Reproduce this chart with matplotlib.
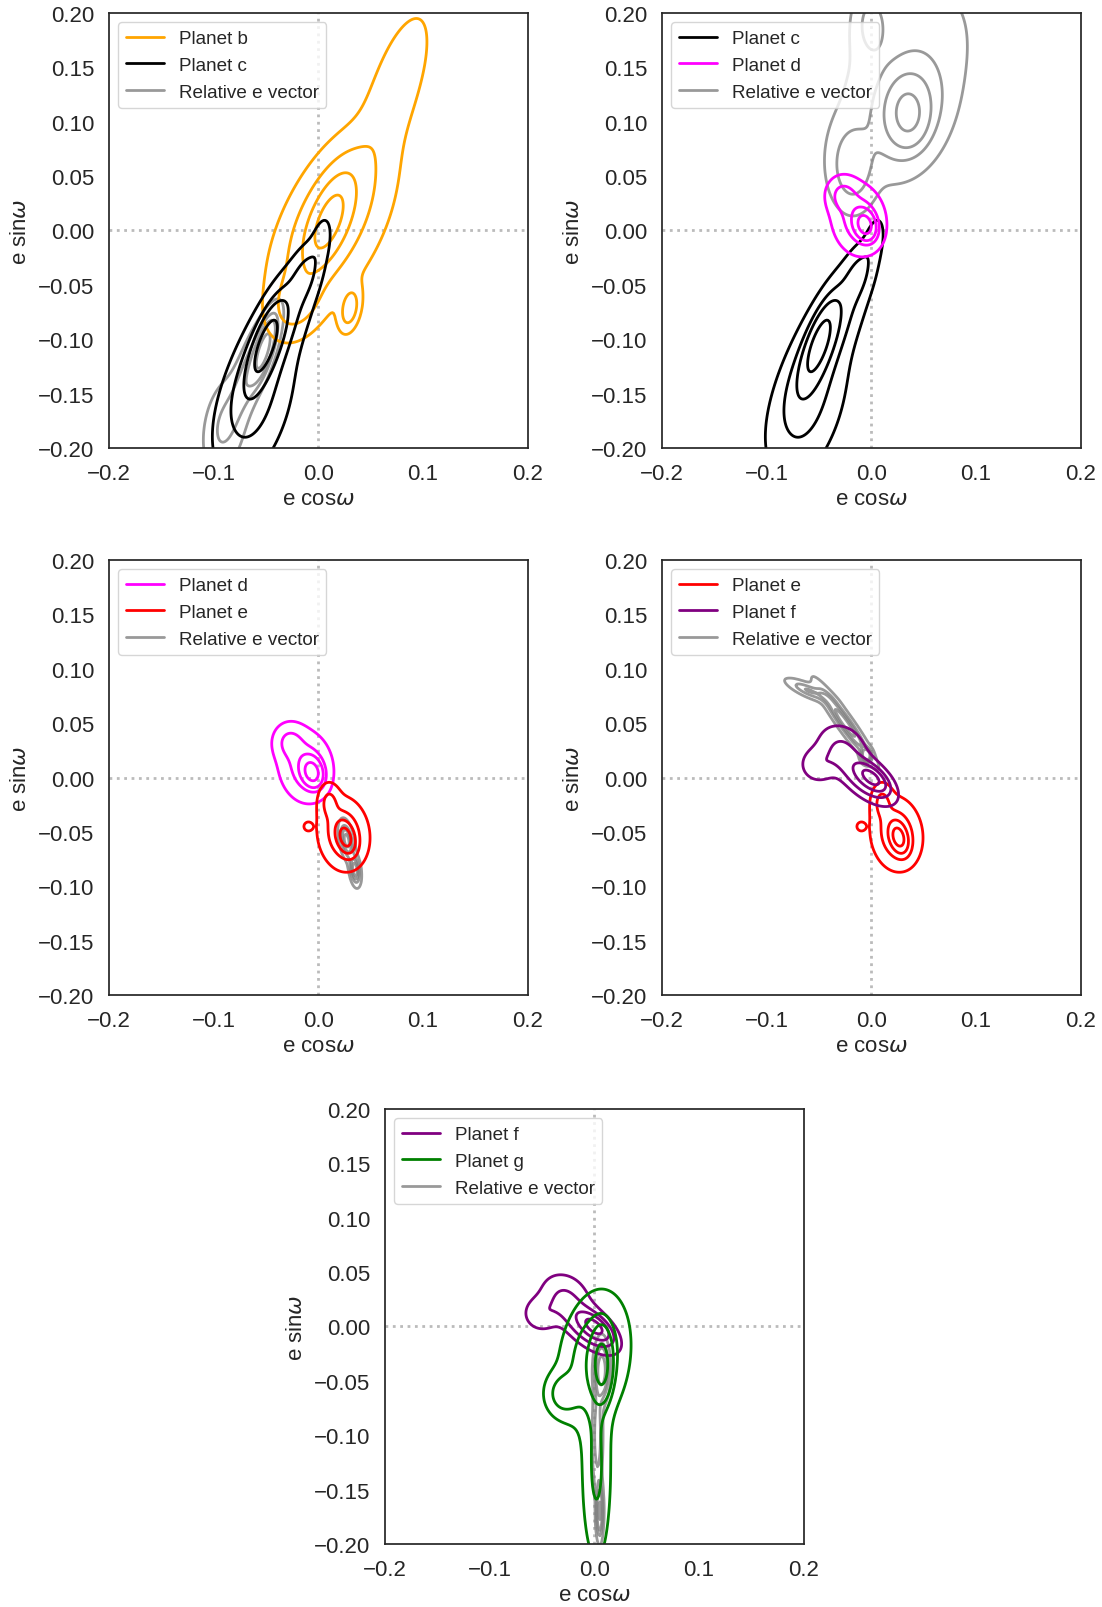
import numpy as np
import matplotlib
matplotlib.use("Agg")
import matplotlib.pyplot as plt
from matplotlib.lines import Line2D
import seaborn as sns

# posterior shapes:
# each row = (weight, x centre, y centre, x width, y width, correlation)
planet_b = [
    (0.30, 0.010, 0.008, 0.012, 0.022, 0.60),
    (0.30, 0.012, 0.012, 0.026, 0.040, 0.60),
    (0.22, 0.015, 0.000, 0.040, 0.055, 0.55),
    (0.09, 0.075, 0.135, 0.020, 0.042, 0.65),
    (0.06, -0.020, -0.065, 0.014, 0.018, 0.30),
    (0.02, 0.030, -0.072, 0.006, 0.012, 0.30),
]
planet_c = [
    (0.26, -0.050, -0.105, 0.009, 0.020, 0.70),
    (0.38, -0.045, -0.100, 0.024, 0.042, 0.80),
    (0.28, -0.060, -0.165, 0.022, 0.040, 0.50),
    (0.035, -0.012, -0.040, 0.009, 0.016, 0.50),
    (0.012, 0.003, -0.008, 0.006, 0.014, 0.40),
]
planet_d = [
    (0.35, -0.006, 0.005, 0.006, 0.008, -0.20),
    (0.50, -0.012, 0.010, 0.014, 0.018, -0.10),
    (0.12, -0.028, 0.033, 0.009, 0.010, 0.00),
]
planet_e = [
    (0.35, 0.026, -0.055, 0.005, 0.008, -0.30),
    (0.52, 0.024, -0.052, 0.013, 0.018, -0.10),
    (0.08, 0.010, -0.022, 0.006, 0.010, 0.00),
    (0.006, -0.010, -0.045, 0.003, 0.003, 0.00),
]
planet_f = [
    (0.30, 0.000, 0.000, 0.007, 0.006, -0.60),
    (0.40, -0.005, 0.000, 0.015, 0.013, -0.60),
    (0.17, -0.028, 0.028, 0.014, 0.013, -0.20),
    (0.09, -0.050, 0.012, 0.011, 0.010, 0.00),
]
planet_g = [
    (0.30, 0.007, -0.035, 0.005, 0.016, 0.00),
    (0.40, 0.000, -0.030, 0.018, 0.033, 0.20),
    (0.17, 0.002, -0.130, 0.008, 0.050, 0.00),
    (0.06, -0.030, -0.062, 0.010, 0.012, 0.00),
]
rel_bc = [
    (0.35, -0.052, -0.110, 0.006, 0.015, 0.70),
    (0.40, -0.062, -0.125, 0.014, 0.030, 0.80),
    (0.25, -0.090, -0.180, 0.012, 0.025, 0.30),
]
rel_cd = [
    (0.25, 0.035, 0.108, 0.009, 0.014, 0.00),
    (0.30, 0.035, 0.110, 0.018, 0.026, 0.20),
    (0.30, 0.032, 0.140, 0.040, 0.055, 0.40),
    (0.10, -0.018, 0.060, 0.012, 0.022, 0.00),
    (0.05, 0.000, 0.190, 0.010, 0.020, 0.00),
]
rel_de = [
    (0.60, 0.027, -0.058, 0.004, 0.010, -0.40),
    (0.40, 0.035, -0.085, 0.003, 0.008, -0.30),
]
rel_ef = [
    (0.70, -0.025, 0.050, 0.015, 0.020, -0.95),
    (0.20, -0.060, 0.080, 0.012, 0.006, -0.80),
    (0.10, -0.005, 0.020, 0.003, 0.004, 0.00),
]
rel_fg = [
    (0.50, 0.007, -0.040, 0.004, 0.015, 0.00),
    (0.30, 0.003, -0.100, 0.003, 0.030, 0.00),
    (0.20, 0.005, -0.170, 0.002, 0.015, 0.00),
]

mass_fracs = [0.92, 0.7, 0.45, 0.2]
xticks = [-0.2, -0.1, 0.0, 0.1, 0.2]
yticks = [-0.20, -0.15, -0.10, -0.05, 0.00, 0.05, 0.10, 0.15, 0.20]

panels = [
    (("Planet b", planet_b, "orange"), ("Planet c", planet_c, "black"), rel_bc),
    (("Planet c", planet_c, "black"), ("Planet d", planet_d, "magenta"), rel_cd),
    (("Planet d", planet_d, "magenta"), ("Planet e", planet_e, "red"), rel_de),
    (("Planet e", planet_e, "red"), ("Planet f", planet_f, "purple"), rel_ef),
    (("Planet f", planet_f, "purple"), ("Planet g", planet_g, "green"), rel_fg),
]
# axes boxes in figure fractions
boxes = [
    (0.0989, 0.7208, 0.380, 0.2705),
    (0.6007, 0.7208, 0.380, 0.2705),
    (0.0989, 0.3806, 0.380, 0.2705),
    (0.6007, 0.3806, 0.380, 0.2705),
    (0.3494, 0.0392, 0.380, 0.2705),
]

sns.set_style("white")
plt.rcParams["font.family"] = ["Liberation Sans", "DejaVu Sans"]
plt.rcParams["font.size"] = 16

gx = np.linspace(-0.35, 0.35, 600)
X, Y = np.meshgrid(gx, gx)


def density(comps):
    Z = np.zeros_like(X)
    for w, mx, my, sx, sy, r in comps:
        dx = (X - mx) / sx
        dy = (Y - my) / sy
        q = (dx ** 2 - 2 * r * dx * dy + dy ** 2) / (1 - r ** 2)
        Z += w * np.exp(-0.5 * q) / (2 * np.pi * sx * sy * np.sqrt(1 - r ** 2))
    return Z


def mass_levels(Z):
    z = np.sort(Z.ravel())[::-1]
    c = np.cumsum(z)
    c /= c[-1]
    return sorted(z[np.searchsorted(c, f)] for f in mass_fracs)


def kde(ax, comps, color, alpha=1.0):
    Z = density(comps)
    ax.contour(X, Y, Z, levels=mass_levels(Z), colors=[color],
               linewidths=2, alpha=alpha)


fig = plt.figure(figsize=(11.02, 16.08), dpi=100)

for (p1, p2, rel), box in zip(panels, boxes):
    ax = fig.add_axes(box)
    ax.axhline(0, color="#bbbbbb", ls=":", lw=2, zorder=0)
    ax.axvline(0, color="#bbbbbb", ls=":", lw=2, zorder=0)
    kde(ax, rel, "grey", alpha=0.8)
    kde(ax, p1[1], p1[2])
    kde(ax, p2[1], p2[2])
    ax.set_xlim(-0.2, 0.2)
    ax.set_ylim(-0.2, 0.2)
    ax.set_xticks(xticks)
    ax.set_yticks(yticks)
    ax.tick_params(labelsize=16, pad=7)
    ax.set_xlabel(r"e cos$\omega$", fontsize=16, labelpad=3)
    ax.set_ylabel(r"e sin$\omega$", fontsize=16, labelpad=5)
    for s in ax.spines.values():
        s.set_linewidth(1.25)
    handles = [Line2D([], [], color=p1[2], lw=2),
               Line2D([], [], color=p2[2], lw=2),
               Line2D([], [], color="grey", lw=2, alpha=0.8)]
    ax.legend(handles, [p1[0], p2[0], "Relative e vector"], loc="upper left",
              fontsize=13.6)

fig.savefig("out.png", dpi=100)
